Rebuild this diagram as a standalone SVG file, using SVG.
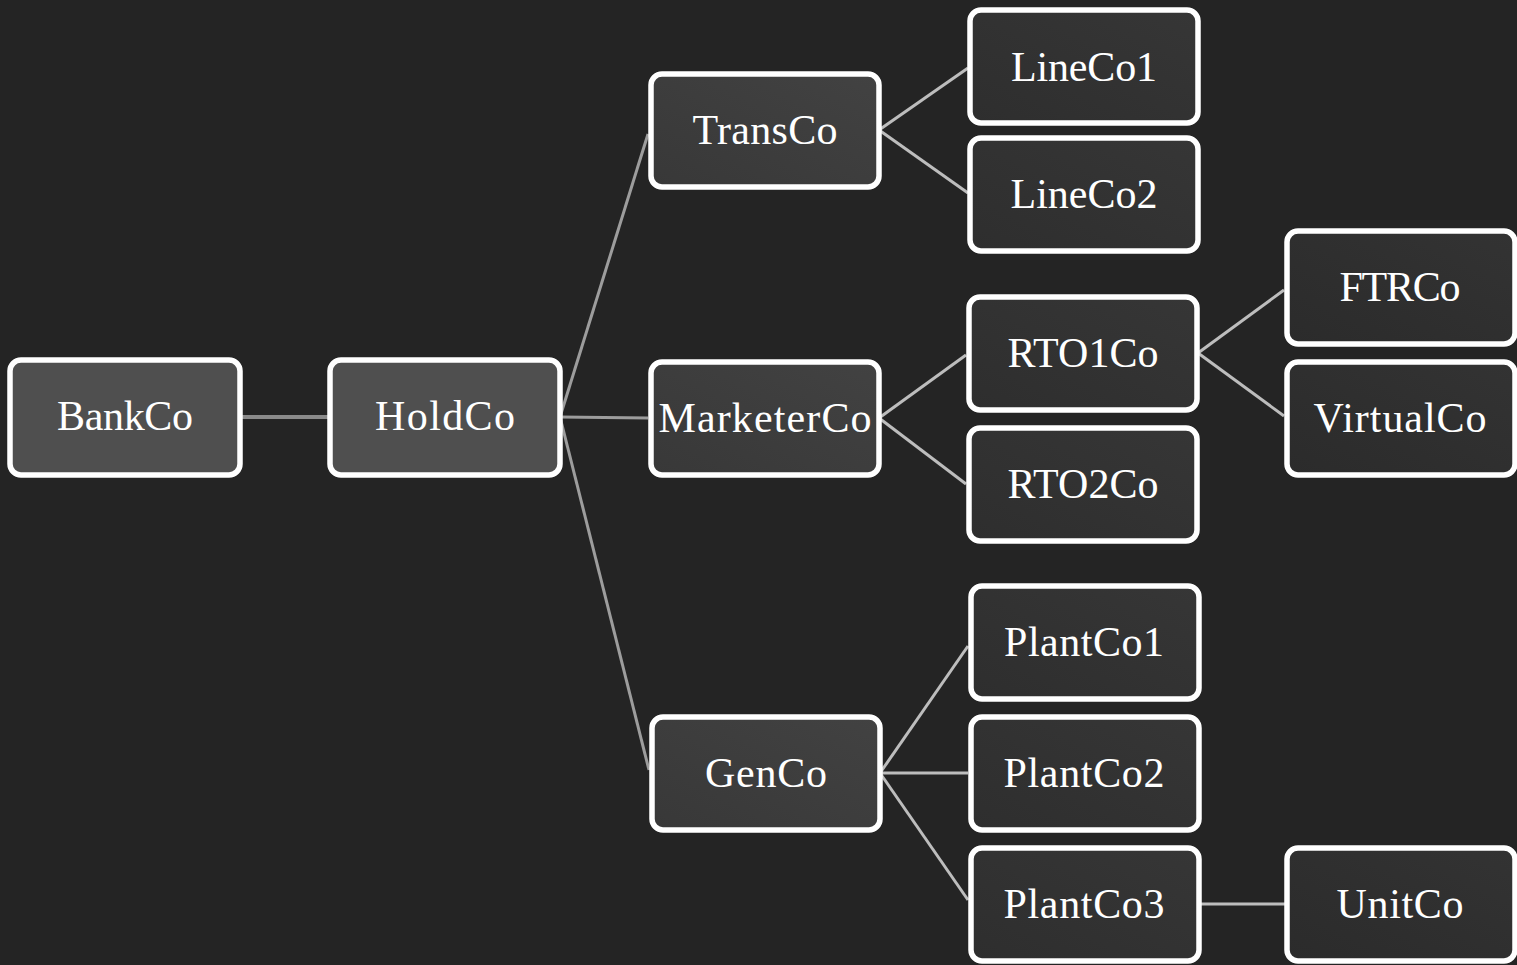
<svg xmlns="http://www.w3.org/2000/svg" width="1517" height="965" viewBox="0 0 1517 965">
<style>
.box{stroke:#ffffff;stroke-width:5.5}
.l1{fill:#4f4f4f}
.l2{fill:url(#g2)}
.l3{fill:url(#g3)}
.l4{fill:url(#g4)}
.lbl{font-family:"Liberation Serif","DejaVu Serif",serif;font-size:42px;fill:#ffffff;text-anchor:middle}
.c{fill:none;stroke-width:3}
.c0{stroke:#8a8a8a;stroke-width:4}
.c1{stroke:#9d9d9d}
.c2{stroke:#bdbdbd}
</style>
<defs>
<linearGradient id="g2" x1="0" y1="1" x2="1" y2="0">
<stop offset="0" stop-color="#383838"/>
<stop offset="1" stop-color="#424242"/>
</linearGradient>
<linearGradient id="g3" x1="0" y1="1" x2="1" y2="0">
<stop offset="0" stop-color="#2e2e2e"/>
<stop offset="1" stop-color="#363636"/>
</linearGradient>
<linearGradient id="g4" x1="0" y1="1" x2="1" y2="0">
<stop offset="0" stop-color="#2b2b2b"/>
<stop offset="1" stop-color="#333333"/>
</linearGradient>
</defs>
<rect width="1517" height="965" fill="#242424"/>
<g id="connectors">
<line class="c c0" x1="242" y1="417" x2="328" y2="417"/>
<line class="c c1" x1="560" y1="417" x2="648" y2="134"/>
<line class="c c1" x1="560" y1="417" x2="648" y2="418"/>
<line class="c c1" x1="560" y1="417" x2="649" y2="770"/>
<line class="c c2" x1="879" y1="130" x2="968" y2="68"/>
<line class="c c2" x1="879" y1="130" x2="968" y2="193"/>
<line class="c c2" x1="879" y1="418" x2="966" y2="355"/>
<line class="c c2" x1="879" y1="418" x2="966" y2="484"/>
<line class="c c2" x1="880" y1="773" x2="968" y2="646"/>
<line class="c c2" x1="880" y1="773" x2="968" y2="773"/>
<line class="c c2" x1="880" y1="773" x2="968" y2="900"/>
<line class="c c2" x1="1198" y1="353" x2="1284" y2="290"/>
<line class="c c2" x1="1198" y1="353" x2="1284" y2="416"/>
<line class="c c2" x1="1200" y1="904" x2="1286" y2="904"/>
</g>
<g id="BankCo"><rect class="box l1" x="10" y="360" width="230" height="115" rx="11"/><text class="lbl" x="125" y="430" textLength="136">BankCo</text></g>
<g id="HoldCo"><rect class="box l1" x="330" y="360" width="230" height="115" rx="11"/><text class="lbl" x="445" y="430" textLength="140">HoldCo</text></g>
<g id="TransCo"><rect class="box l2" x="651" y="74" width="228" height="113" rx="11"/><text class="lbl" x="765" y="144" textLength="145">TransCo</text></g>
<g id="MarketerCo"><rect class="box l2" x="651" y="362" width="228" height="113" rx="11"/><text class="lbl" x="765" y="432" textLength="213">MarketerCo</text></g>
<g id="GenCo"><rect class="box l2" x="652" y="717" width="228" height="113" rx="11"/><text class="lbl" x="766" y="787" textLength="122">GenCo</text></g>
<g id="LineCo1"><rect class="box l3" x="970" y="10" width="228" height="113" rx="11"/><text class="lbl" x="1084" y="81" textLength="146">LineCo1</text></g>
<g id="LineCo2"><rect class="box l3" x="970" y="138" width="228" height="113" rx="11"/><text class="lbl" x="1084" y="208" textLength="147">LineCo2</text></g>
<g id="RTO1Co"><rect class="box l3" x="969" y="297" width="228" height="113" rx="11"/><text class="lbl" x="1083" y="367" textLength="151">RTO1Co</text></g>
<g id="RTO2Co"><rect class="box l3" x="969" y="428" width="228" height="113" rx="11"/><text class="lbl" x="1083" y="498" textLength="151">RTO2Co</text></g>
<g id="PlantCo1"><rect class="box l3" x="971" y="586" width="228" height="113" rx="11"/><text class="lbl" x="1084" y="656" textLength="160">PlantCo1</text></g>
<g id="PlantCo2"><rect class="box l3" x="971" y="717" width="228" height="113" rx="11"/><text class="lbl" x="1084" y="787" textLength="161">PlantCo2</text></g>
<g id="PlantCo3"><rect class="box l3" x="971" y="848" width="228" height="113" rx="11"/><text class="lbl" x="1084" y="918" textLength="161">PlantCo3</text></g>
<g id="FTRCo"><rect class="box l4" x="1287" y="231" width="228" height="113" rx="11"/><text class="lbl" x="1400" y="301" textLength="121">FTRCo</text></g>
<g id="VirtualCo"><rect class="box l4" x="1287" y="362" width="228" height="113" rx="11"/><text class="lbl" x="1400" y="432" textLength="173">VirtualCo</text></g>
<g id="UnitCo"><rect class="box l4" x="1287" y="848" width="228" height="113" rx="11"/><text class="lbl" x="1400" y="918" textLength="127">UnitCo</text></g>
</svg>
